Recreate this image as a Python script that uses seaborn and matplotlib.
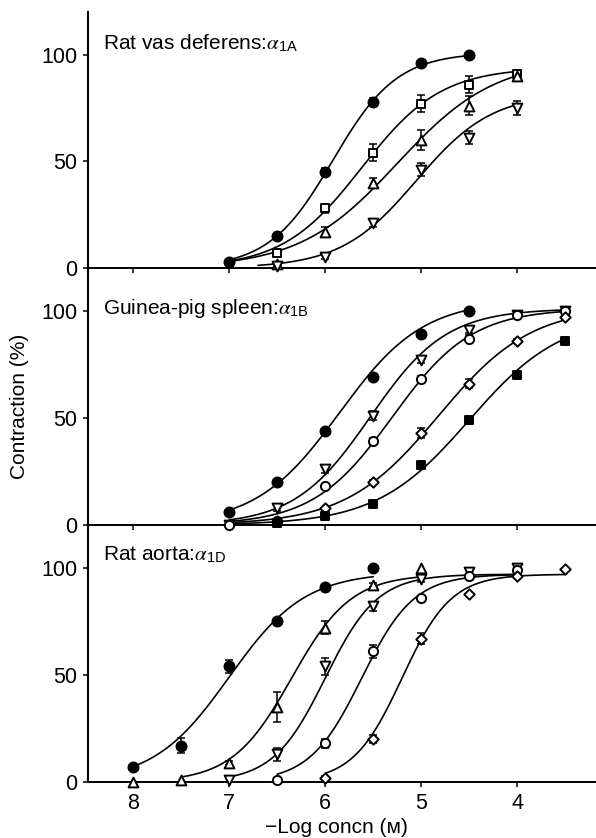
import numpy as np
import pandas as pd
import seaborn as sns
import matplotlib.pyplot as plt

sns.set_style('ticks', {'axes.edgecolor': 'black', 'xtick.color': 'black',
                        'ytick.color': 'black', 'text.color': 'black',
                        'axes.labelcolor': 'black'})
plt.rcParams['font.family'] = ['Liberation Sans', 'DejaVu Sans']
plt.rcParams['mathtext.fontset'] = 'stix'

# ---- rat vas deferens (alpha 1A) ----
vas_circle_x = [7, 6.5, 6, 5.5, 5, 4.5]
vas_circle_y = [3, 15, 45, 78, 96, 100]
vas_circle_err = [0, 0, 2, 1.5, 0, 0]
vas_square_x = [6.5, 6, 5.5, 5, 4.5, 4]
vas_square_y = [7, 28, 54, 77, 86, 91]
vas_square_err = [1.5, 2, 4, 4, 4, 2]
vas_tri_x = [6.5, 6, 5.5, 5, 4.5, 4]
vas_tri_y = [2, 17, 40, 60, 76, 90]
vas_tri_err = [0, 2, 2, 4.5, 4.5, 2]
vas_inv_x = [6.5, 6, 5.5, 5, 4.5, 4]
vas_inv_y = [1, 5, 21, 46, 61, 75]
vas_inv_err = [0, 1, 2, 3, 3, 3.5]
# fitted curves: Emax, pEC50, Hill slope, start of drawn curve
vas_emax = [101, 94, 98, 82]
vas_pec50 = [5.92, 5.62, 5.25, 5.05]
vas_nh = [1.3, 1.05, 0.85, 1.1]
vas_start = [7, 7, 7, 6.7]

# ---- guinea-pig spleen (alpha 1B) ----
spl_circle_x = [7, 6.5, 6, 5.5, 5, 4.5]
spl_circle_y = [6, 20, 44, 69, 89, 100]
spl_circle_err = [0, 0, 0, 0, 0, 0]
spl_inv_x = [7, 6.5, 6, 5.5, 5, 4.5, 4, 3.5]
spl_inv_y = [0, 8, 26, 51, 77, 91, 98, 100]
spl_inv_err = [0, 1.5, 1.5, 2, 1.5, 1.5, 1, 0]
spl_ocircle_x = [7, 6.5, 6, 5.5, 5, 4.5, 4, 3.5]
spl_ocircle_y = [0, 2, 18, 39, 68, 87, 98, 100]
spl_ocircle_err = [0, 0, 1, 1.5, 1.5, 1.5, 1, 0]
spl_diam_x = [6.5, 6, 5.5, 5, 4.5, 4, 3.5]
spl_diam_y = [2, 8, 20, 43, 66, 86, 97]
spl_diam_err = [0, 0, 1, 2.5, 2, 1, 1]
spl_fsq_x = [6.5, 6, 5.5, 5, 4.5, 4, 3.5]
spl_fsq_y = [1, 4, 10, 28, 49, 70, 86]
spl_fsq_err = [0, 0, 0, 0, 0, 0, 0]
spl_emax = [105, 101, 101, 102, 98]
spl_pec50 = [5.85, 5.53, 5.3, 4.82, 4.5]
spl_nh = [1.0, 1.1, 1.05, 0.9, 0.9]
spl_start = [7, 7, 7, 7, 7]

# ---- rat aorta (alpha 1D) ----
aor_circle_x = [8, 7.5, 7, 6.5, 6, 5.5]
aor_circle_y = [7, 17, 54, 75, 91, 100]
aor_circle_err = [0, 3.5, 3, 1.5, 0, 0]
aor_tri_x = [8, 7.5, 7, 6.5, 6, 5.5, 5]
aor_tri_y = [0, 1, 9, 35, 72, 92, 100]
aor_tri_err = [0, 0, 1, 7, 3, 1, 0]
aor_inv_x = [7, 6.5, 6, 5.5, 5, 4.5, 4]
aor_inv_y = [1, 13, 54, 82, 95, 98, 100]
aor_inv_err = [0, 3, 4, 2, 1.5, 1, 0]
aor_ocircle_x = [6.5, 6, 5.5, 5, 4.5, 4]
aor_ocircle_y = [1, 18, 61, 86, 96, 99]
aor_ocircle_err = [0, 2, 3, 0, 0, 0]
aor_diam_x = [6, 5.5, 5, 4.5, 4, 3.5]
aor_diam_y = [2, 20, 67, 88, 96, 99.5]
aor_diam_err = [1, 2, 2.5, 0, 0, 0]
aor_emax = [98, 97, 97, 97, 97]
aor_pec50 = [7.0, 6.35, 6.0, 5.62, 5.2]
aor_nh = [1.1, 1.4, 1.6, 1.6, 1.7]
aor_start = [8, 7.5, 7, 6.5, 6]

ticks_x = [8, 7, 6, 5, 4]
ticks_y = [0, 50, 100]

# marker: (shape, filled, size)
circ_f = ('o', True, 52)
circ_o = ('o', False, 44)
sq_o = ('s', False, 38)
sq_f = ('s', True, 34)
tri_o = ('^', False, 50)
inv_o = ('v', False, 50)
diam_o = ('D', False, 28)

panels = [
    dict(label=r'Rat vas deferens:$\alpha_{\mathregular{1A}}$', ty=105.5,
         series=[(vas_circle_x, vas_circle_y, vas_circle_err, circ_f),
                 (vas_square_x, vas_square_y, vas_square_err, sq_o),
                 (vas_tri_x, vas_tri_y, vas_tri_err, tri_o),
                 (vas_inv_x, vas_inv_y, vas_inv_err, inv_o)],
         emax=vas_emax, pec=vas_pec50, nh=vas_nh, start=vas_start),
    dict(label=r'Guinea-pig spleen:$\alpha_{\mathregular{1B}}$', ty=101,
         series=[(spl_circle_x, spl_circle_y, spl_circle_err, circ_f),
                 (spl_inv_x, spl_inv_y, spl_inv_err, inv_o),
                 (spl_ocircle_x, spl_ocircle_y, spl_ocircle_err, circ_o),
                 (spl_diam_x, spl_diam_y, spl_diam_err, diam_o),
                 (spl_fsq_x, spl_fsq_y, spl_fsq_err, sq_f)],
         emax=spl_emax, pec=spl_pec50, nh=spl_nh, start=spl_start),
    dict(label=r'Rat aorta:$\alpha_{\mathregular{1D}}$', ty=106,
         series=[(aor_circle_x, aor_circle_y, aor_circle_err, circ_f),
                 (aor_tri_x, aor_tri_y, aor_tri_err, tri_o),
                 (aor_inv_x, aor_inv_y, aor_inv_err, inv_o),
                 (aor_ocircle_x, aor_ocircle_y, aor_ocircle_err, circ_o),
                 (aor_diam_x, aor_diam_y, aor_diam_err, diam_o)],
         emax=aor_emax, pec=aor_pec50, nh=aor_nh, start=aor_start),
]


def hill(x, emax, pec50, nh):
    return emax / (1 + 10 ** (nh * (x - pec50)))


fig = plt.figure(figsize=(5.96, 8.38), dpi=100)
H = 838.0
tops = [12, 268, 525]
bots = [268, 525, 782]
left = 88 / 596.0

for i, p in enumerate(panels):
    ax = fig.add_axes([left, 1 - bots[i] / H, 1 - left, (bots[i] - tops[i]) / H])
    ax.set_facecolor('none')   # so the panel below does not hide the axis line above
    ax.set_xlim(8.47, 3.18)
    ax.set_ylim(0, 120)

    for j, (xs, ys, es, mk) in enumerate(p['series']):
        # fitted curve
        xc = np.linspace(p['start'][j], min(xs), 200)
        curve = pd.DataFrame({'x': xc, 'y': hill(xc, p['emax'][j], p['pec'][j], p['nh'][j])})
        sns.lineplot(data=curve, x='x', y='y', ax=ax, color='black', lw=1.2,
                     sort=False, estimator=None, zorder=2)
        # error bars where they exist
        df = pd.DataFrame({'x': xs, 'y': ys, 'e': es})
        eb = df[df['e'] > 0]
        if len(eb):
            ax.errorbar(eb['x'], eb['y'], yerr=eb['e'], fmt='none', ecolor='black',
                        elinewidth=1.1, capsize=2.8, capthick=1.1, zorder=3)
        shape, filled, size = mk
        sns.scatterplot(data=df, x='x', y='y', ax=ax, marker=shape, s=size,
                        facecolor='black' if filled else 'white', edgecolor='black',
                        linewidth=1.4, zorder=4, clip_on=False, legend=False)

    ax.text(8.31, p['ty'], p['label'], fontsize=15, va='center', ha='left')

    ax.set_xticks(ticks_x)
    ax.set_yticks(ticks_y)
    ax.tick_params(axis='both', direction='out', length=3.8, width=1.1,
                   labelsize=15.5, pad=4, colors='black')
    if i < 2:
        ax.set_xticklabels([])
    sns.despine(ax=ax, top=True, right=True)
    ax.spines['left'].set_linewidth(1.5)
    ax.spines['bottom'].set_linewidth(1.4)
    ax.spines['left'].set_color('black')
    ax.spines['bottom'].set_color('black')
    ax.set_xlabel('')
    ax.set_ylabel('')

fig.text(0.032, 0.5155, 'Contraction (%)', rotation=90, fontsize=15,
         ha='center', va='center')
fig.text(0.564, 0.012, '\u2212Log concn (\u1d0d)', fontsize=15,
         ha='center', va='center')

fig.savefig('out.png', dpi=100)
